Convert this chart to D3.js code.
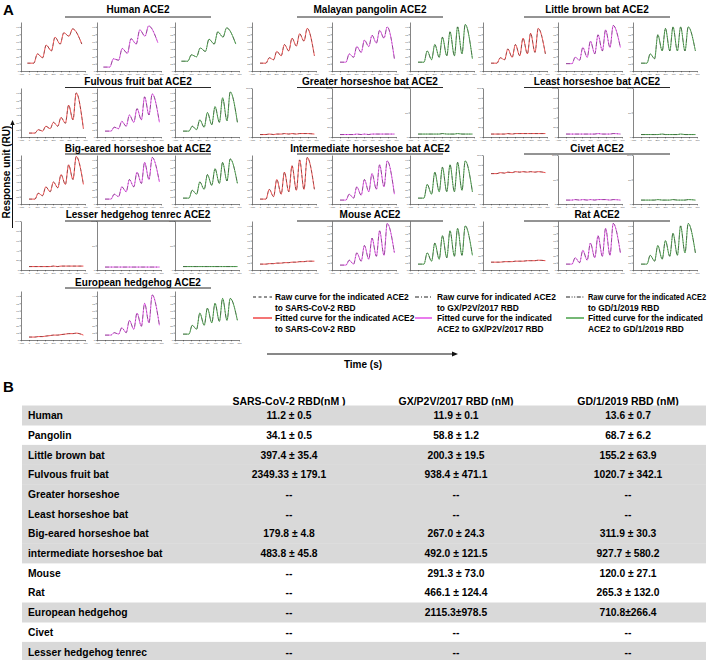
<!DOCTYPE html>
<html><head><meta charset="utf-8">
<script src="https://cdn.jsdelivr.net/npm/d3@7"></script>
<style>body{margin:0;background:#fff} svg{display:block} text{font-family:"Liberation Sans",Arial,Helvetica,sans-serif}</style>
</head><body><svg id="c" width="709" height="660"></svg>
<script>
// ---------------- DATA ----------------
const panelTitles = ["Human ACE2","Malayan pangolin ACE2","Little brown bat ACE2",
  "Fulvous fruit bat ACE2","Greater horseshoe bat ACE2","Least horseshoe bat ACE2",
  "Big-eared horseshoe bat ACE2","Intermediate horseshoe bat ACE2","Civet ACE2",
  "Lesser hedgehog tenrec ACE2","Mouse ACE2","Rat ACE2","European hedgehog ACE2"];
const xTicks = [-100,0,100,200,300,400,500,600,700];
const ticksDense = [0,15,30,45,60,75,90];
const ticksFlat = [0,20,40,60,80,100];
const ticksSparse = [0,50,100];
// time points (s) of sensorgram key points: baseline, injection starts, peaks, end
const T5 = [-20,60,105,170,215,280,325,390,435,500,545,660];
const T6 = [0,75,115,170,210,265,305,360,400,455,495,550,590,680];
// response (RU) at the key time points: [SARS-CoV-2, GX/P2V/2017, GD/1/2019]
const human = [[16,16,35,27,53,41,69,55,78,71,86,55],[8,8,25,22,46,36,66,55,84,71,92,58],[20,20,33,29,47,40,65,55,80,69,88,55]];
const pangolin = [[16,16,27,23,40,31,54,41,67,51,76,61,87,31],[18,18,35,28,50,38,63,50,73,57,83,67,90,25],[18,18,41,23,54,28,69,31,80,31,90,35,95,25]];
const littleBrownBat = [[16,16,27,23,45,28,54,31,67,35,77,38,87,35],[15,15,28,22,48,28,61,35,74,41,84,48,93,48],[16,16,35,25,74,41,87,41,90,41,90,41,90,41]];
const fulvousFruitBat = [[8,8,15,12,22,17,30,22,40,28,65,35,90,17],[12,12,20,17,32,22,45,30,58,35,82,45,88,30],[12,12,22,15,35,20,50,25,62,30,80,33,92,30]];
const greaterHorseshoe = [[5,5,6,5,6,6,7,6,7,6,7,7,7,6],[5,5,5,5,6,5,6,5,6,6,6,6,6,6],[6,6,6,6,6,6,7,6,6,6,7,6,6,6]];
const leastHorseshoe = [[6,6,6,6,7,6,7,7,7,7,7,7,7,7],[6,6,6,6,6,6,6,6,7,6,6,6,7,6],[5,5,5,5,5,6,5,5,5,5,6,5,5,5]];
const bigEared = [[10,10,22,17,35,25,45,33,60,40,80,50,97,40],[10,10,20,15,35,25,50,35,65,42,85,50,95,45],[12,12,28,20,45,30,60,38,72,42,85,47,92,42]];
const intermediate = [[10,10,30,15,50,20,65,25,78,28,90,30,95,30],[8,8,20,12,35,18,50,25,62,30,80,35,88,20],[12,12,40,20,65,25,75,25,80,25,85,28,88,25]];
const civet = [[62,62,64,63,65,64,66,65,66,65,66,65,66,64],[8,8,9,8,9,8,9,8,9,9,9,8,9,8],[8,8,8,8,9,8,8,8,9,8,8,8,9,8]];
const tenrec = [[7,7,7,7,7,7,8,7,8,8,8,8,8,8],[6,6,6,6,6,6,6,6,6,6,6,6,6,6],[7,7,7,7,7,7,7,7,7,7,7,7,7,7]];
const mouse = [[12,12,13,13,14,14,15,15,16,16,17,17,18,18],[10,10,20,12,35,18,50,22,65,28,80,30,95,35],[12,12,35,18,55,22,70,25,80,28,85,30,90,30]];
const rat = [[16,16,16,17,17,17,18,18,18,19,19,19,20,19],[12,12,25,15,40,20,55,25,70,28,85,30,95,35],[12,12,30,18,50,22,60,28,75,30,90,35,95,35]];
const europeanHedgehog = [[6,6,7,7,8,9,10,10,11,12,13,13,14,10],[10,10,15,12,25,15,40,22,55,28,75,35,92,30],[12,12,30,22,55,30,65,35,75,38,85,40,85,40]];
const panelCurves = [human,pangolin,littleBrownBat,fulvousFruitBat,greaterHorseshoe,leastHorseshoe,bigEared,intermediate,civet,tenrec,mouse,rat,europeanHedgehog];
const panelTimes = [T5,T6,T6,T6,T6,T6,T6,T6,T6,T6,T6,T6,T6];
const panelTicks = [
  [ticksDense,ticksDense,ticksDense],[ticksDense,ticksDense,ticksDense],[ticksDense,ticksDense,ticksDense],
  [ticksDense,ticksDense,ticksDense],[ticksFlat,ticksFlat,ticksSparse],[ticksFlat,ticksFlat,ticksSparse],
  [ticksDense,ticksDense,ticksDense],[ticksDense,ticksDense,ticksDense],[ticksFlat,ticksSparse,ticksSparse],
  [ticksFlat,ticksSparse,ticksSparse],[ticksDense,ticksDense,ticksDense],[ticksDense,ticksDense,ticksDense],
  [ticksDense,ticksDense,ticksDense]];
const seriesColors = ["#f03a3a","#e044e6","#3c9a3c"];
const legendRaw = [["Raw curve for the indicated ACE2","to SARS-CoV-2 RBD"],["Raw curve for indicated ACE2","to GX/P2V/2017 RBD"],["Raw curve for the indicated ACE2","to GD/1/2019 RBD"]];
const legendFit = [["Fitted curve for the indicated ACE2","to SARS-CoV-2 RBD"],["Fitted curve for the indicated","ACE2 to GX/P2V/2017 RBD"],["Fitted curve for the indicated","ACE2 to GD/1/2019 RBD"]];
const rawDash = ["3,2.5","4,2,1,2","4,1.6,1,1.6,1,1.6"];
// table B
const tableHeaders = ["SARS-CoV-2 RBD(nM )","GX/P2V/2017 RBD (nM)","GD/1/2019 RBD (nM)"];
const tableSpecies = ["Human","Pangolin","Little brown bat","Fulvous fruit bat","Greater horseshoe","Least horseshoe bat","Big-eared horseshoe bat","intermediate horseshoe bat","Mouse","Rat","European hedgehog","Civet","Lesser hedgehog tenrec"];
const sarsKd = ["11.2 ± 0.5","34.1 ± 0.5","397.4 ± 35.4","2349.33 ± 179.1","--","--","179.8 ± 4.8","483.8 ± 45.8","--","--","--","--","--"];
const gxKd = ["11.9 ± 0.1","58.8 ± 1.2","200.3 ± 19.5","938.4 ± 471.1","--","--","267.0 ± 24.3","492.0 ± 121.5","291.3 ± 73.0","466.1 ± 124.4","2115.3±978.5","--","--"];
const gdKd = ["13.6 ± 0.7","68.7 ± 6.2","155.2 ± 63.9","1020.7 ± 342.1","--","--","311.9 ± 30.3","927.7 ± 580.2","120.0 ± 27.1","265.3 ± 132.0","710.8±266.4","--","--"];
const rowShaded = [1,0,1,1,1,1,1,1,0,0,1,0,1];

// ---------------- LAYOUT ----------------
const svg = d3.select("#c");
svg.append("rect").attr("width",709).attr("height",660).attr("fill","#fff");
const groupX = [[21,97,175],[252,332,410],[483,558,633]];
const groupCenter = [138,370,597];
const panelW = 64, panelH = 49;
const rowTop = [22,88,155,221,291];
const titleBase = [13,85,151.5,218.3,286];
const titleLine = [17,87.5,154,221,288];

svg.append("text").attr("x",3).attr("y",15).attr("font-size",15).attr("font-weight","bold").text("A");

panelTitles.forEach((title,i)=>{
  const g = i%3, r = Math.floor(i/3);
  svg.append("text").attr("x",groupCenter[g]).attr("y",titleBase[r]).attr("text-anchor","middle")
    .attr("font-size",10).attr("font-weight","bold").text(title);
  svg.append("line").attr("x1",groupCenter[g]-73).attr("x2",groupCenter[g]+73)
    .attr("y1",titleLine[r]).attr("y2",titleLine[r]).attr("stroke","#111").attr("stroke-width",0.9);
  for(let s=0;s<3;s++){
    const x0 = groupX[g][s], y0 = rowTop[r];
    const x = d3.scaleLinear().domain([-100,700]).range([x0,x0+panelW]);
    const y = d3.scaleLinear().domain([0,100]).range([y0+panelH,y0]);
    const pg = svg.append("g");
    const ax = pg.append("g").attr("transform",`translate(0,${y0+panelH})`)
      .call(d3.axisBottom(x).tickValues(xTicks).tickSize(1.4).tickSizeOuter(0).tickPadding(0.4));
    const ay = pg.append("g").attr("transform",`translate(${x0},0)`)
      .call(d3.axisLeft(y).tickValues(panelTicks[i][s]).tickSize(1.4).tickSizeOuter(0).tickPadding(0.6));
    [ax,ay].forEach(a=>{
      a.selectAll("path").attr("stroke","#333").attr("stroke-width",0.6);
      a.selectAll("line").attr("stroke","#333").attr("stroke-width",0.5);
      a.selectAll("text").attr("font-size",2.4).attr("fill","#444").attr("font-family","Liberation Sans, Arial, sans-serif");
    });
    const pts = d3.zip(panelTimes[i], panelCurves[i][s]);
    const line = d3.line().x(d=>x(d[0])).y(d=>y(d[1])).curve(d3.curveMonotoneX);
    pg.append("path").attr("d",line(pts)).attr("fill","none").attr("stroke",seriesColors[s]).attr("stroke-width",0.9);
    pg.append("path").attr("d",line(pts)).attr("fill","none").attr("stroke","#222").attr("stroke-width",0.55)
      .attr("stroke-dasharray",rawDash[s]).attr("opacity",0.75);
  }
});

// Y-axis label with arrow
svg.append("text").attr("transform","translate(9.5,172) rotate(-90)").attr("text-anchor","middle")
  .attr("font-size",10).attr("font-weight","bold").text("Response unit (RU)");
svg.append("line").attr("x1",12.5).attr("x2",12.5).attr("y1",228).attr("y2",124).attr("stroke","#111").attr("stroke-width",1);
svg.append("path").attr("d","M12.5,120 L10.3,125 L14.7,125 Z").attr("fill","#111");

// Time arrow
svg.append("line").attr("x1",267).attr("x2",453).attr("y1",354).attr("y2",354).attr("stroke","#111").attr("stroke-width",1);
svg.append("path").attr("d","M458,354 L452,351.6 L452,356.4 Z").attr("fill","#111");
svg.append("text").attr("x",363).attr("y",368).attr("text-anchor","middle").attr("font-size",10).attr("font-weight","bold").text("Time (s)");

// Legend
const legSample = [[253,272],[415,432],[566,584]];
const legText = [275,437,588];
for(let s=0;s<3;s++){
  svg.append("line").attr("x1",legSample[s][0]).attr("x2",legSample[s][1]).attr("y1",297).attr("y2",297)
    .attr("stroke","#222").attr("stroke-width",1).attr("stroke-dasharray",rawDash[s]);
  svg.append("line").attr("x1",legSample[s][0]).attr("x2",legSample[s][1]).attr("y1",318).attr("y2",318)
    .attr("stroke",seriesColors[s]).attr("stroke-width",1.4);
  legendRaw[s].forEach((t,k)=>{
    const tx = svg.append("text").attr("x",legText[s]).attr("y",300+k*10.5).attr("font-size",8.4).attr("font-weight","bold").text(t);
    if(s===2 && k===0) tx.attr("textLength",118).attr("lengthAdjust","spacingAndGlyphs");
  });
  legendFit[s].forEach((t,k)=>svg.append("text").attr("x",legText[s]).attr("y",321+k*10.5).attr("font-size",8.4).attr("font-weight","bold").text(t));
}

// ---------------- TABLE B ----------------
svg.append("text").attr("x",3).attr("y",392).attr("font-size",15).attr("font-weight","bold").text("B");
const colX = [289,456,628];
tableHeaders.forEach((h,k)=>svg.append("text").attr("x",colX[k]).attr("y",405).attr("text-anchor","middle")
  .attr("font-size",10.5).attr("font-weight","bold").text(h));
const rowY = d3.scaleLinear().domain([0,13]).range([405.5,661.6]);
tableSpecies.forEach((sp,i)=>{
  if(rowShaded[i]) svg.append("rect").attr("x",22).attr("y",rowY(i)).attr("width",684).attr("height",rowY(i+1)-rowY(i)+0.3).attr("fill","#d9d9d9");
});
tableSpecies.forEach((sp,i)=>{
  const yb = rowY(i)+13.6;
  svg.append("text").attr("x",28).attr("y",yb).attr("font-size",10.3).attr("font-weight","bold").text(sp);
  [sarsKd,gxKd,gdKd].forEach((col,k)=>svg.append("text").attr("x",colX[k]).attr("y",yb).attr("text-anchor","middle")
    .attr("font-size",10.3).attr("font-weight","bold").text(col[i]));
});
</script></body></html>
